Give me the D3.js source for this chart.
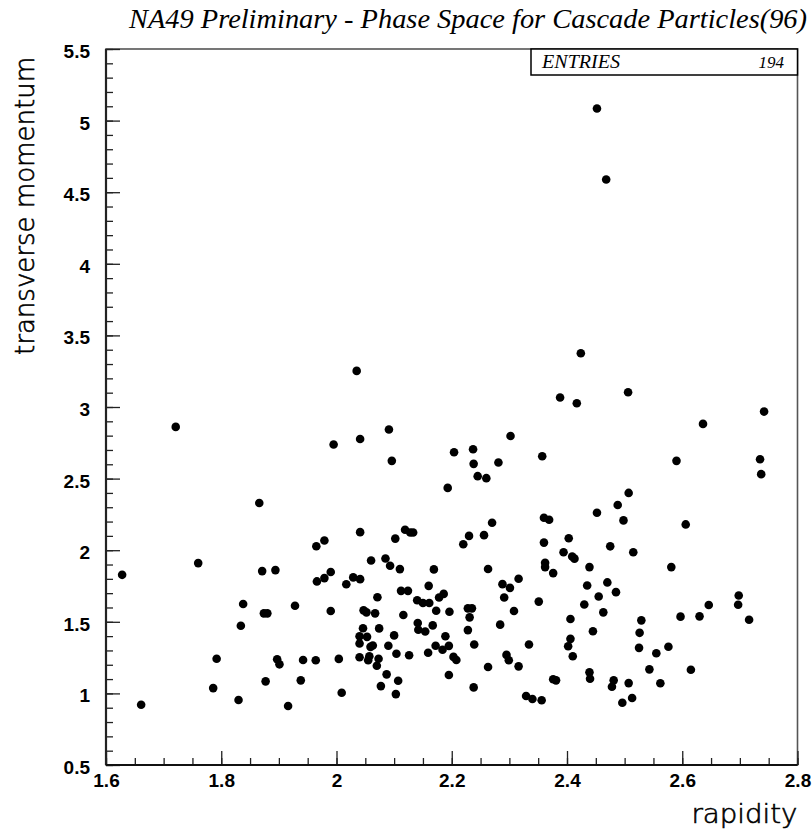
<!DOCTYPE html>
<html>
<head>
<meta charset="utf-8">
<script src="https://cdn.jsdelivr.net/npm/d3@7"></script>
<style>
  body { margin: 0; background: #fff; }
  svg { display: block; }
</style>
</head>
<body>
<svg id="chart" width="812" height="833"></svg>
<script>
// values, one entry per cascade candidate
const rapidity = [
  2.035, 1.721, 1.995, 2.041, 2.091, 2.096, 1.866, 2.041, 2.119, 2.128,
  2.133, 2.102, 1.965, 1.979, 1.760, 1.628, 1.871, 1.894, 1.966, 1.979,
  1.990, 2.017, 2.029, 2.041, 2.060, 2.085, 2.093, 2.110, 2.169, 2.160,
  2.112, 2.124, 2.071, 2.140, 2.150, 2.161, 2.178, 2.186, 2.173, 2.196,
  1.838, 1.874, 1.880, 1.928, 1.990, 2.047, 2.052, 2.067, 2.116, 1.834,
  2.141, 2.142, 2.154, 2.167, 2.189, 2.046, 2.040, 2.053, 2.074, 2.100,
  2.040, 2.059, 2.063, 2.090, 2.172, 2.184, 2.195, 2.104, 2.126, 2.159,
  1.792, 1.897, 1.901, 1.942, 1.964, 2.004, 2.040, 2.057, 2.055, 2.073,
  2.070, 2.087, 2.195, 1.877, 1.938, 2.107, 2.077, 1.786, 2.009, 2.103,
  1.830, 1.661, 1.916,
  2.452, 2.468,
  2.424, 2.506, 2.388, 2.417, 2.742, 2.636, 2.302, 2.204, 2.237, 2.238,
  2.281, 2.357, 2.245, 2.260, 2.590, 2.735, 2.737, 2.193, 2.507, 2.488,
  2.452, 2.498, 2.606, 2.270, 2.360, 2.369, 2.230, 2.220, 2.256, 2.360,
  2.403, 2.475, 2.394, 2.409, 2.413, 2.515, 2.263, 2.362, 2.362, 2.376,
  2.439, 2.581, 2.288, 2.301, 2.316, 2.291, 2.435, 2.470, 2.485, 2.455,
  2.351, 2.430, 2.228, 2.235, 2.231, 2.308, 2.463, 2.406, 2.284, 2.529,
  2.597, 2.630, 2.646, 2.698, 2.697, 2.716, 2.228, 2.445, 2.526, 2.239,
  2.334, 2.406, 2.402, 2.410, 2.525, 2.555, 2.576, 2.203, 2.208, 2.295,
  2.299, 2.263, 2.316, 2.543, 2.615, 2.439, 2.440, 2.376, 2.381, 2.481,
  2.478, 2.507, 2.562, 2.238, 2.329, 2.340, 2.356, 2.496, 2.513
];
const momentum = [
  3.252, 2.861, 2.738, 2.777, 2.843, 2.624, 2.330, 2.126, 2.143, 2.124,
  2.124, 2.081, 2.028, 2.068, 1.910, 1.828, 1.854, 1.861, 1.782, 1.805,
  1.848, 1.762, 1.810, 1.798, 1.928, 1.942, 1.891, 1.868, 1.866, 1.751,
  1.716, 1.716, 1.671, 1.651, 1.631, 1.631, 1.670, 1.695, 1.577, 1.570,
  1.624, 1.559, 1.559, 1.612, 1.575, 1.580, 1.566, 1.559, 1.547, 1.472,
  1.492, 1.445, 1.432, 1.475, 1.399, 1.455, 1.399, 1.395, 1.454, 1.405,
  1.349, 1.325, 1.334, 1.333, 1.333, 1.305, 1.332, 1.277, 1.266, 1.284,
  1.242, 1.238, 1.203, 1.233, 1.231, 1.241, 1.252, 1.259, 1.231, 1.242,
  1.193, 1.133, 1.129, 1.084, 1.091, 1.088, 1.051, 1.037, 1.005, 0.995,
  0.954, 0.921, 0.912,
  5.085, 4.589,
  3.375, 3.103, 3.066, 3.026, 2.968, 2.882, 2.798, 2.684, 2.705, 2.603,
  2.612, 2.656, 2.517, 2.503, 2.624, 2.635, 2.531, 2.435, 2.400, 2.316,
  2.261, 2.208, 2.180, 2.192, 2.227, 2.213, 2.100, 2.042, 2.105, 2.053,
  2.083, 2.027, 1.986, 1.956, 1.941, 1.986, 1.869, 1.912, 1.882, 1.840,
  1.882, 1.882, 1.763, 1.737, 1.801, 1.670, 1.754, 1.775, 1.707, 1.677,
  1.641, 1.621, 1.594, 1.594, 1.531, 1.575, 1.566, 1.520, 1.480, 1.510,
  1.536, 1.538, 1.617, 1.684, 1.619, 1.514, 1.442, 1.434, 1.423, 1.342,
  1.342, 1.381, 1.329, 1.259, 1.318, 1.280, 1.326, 1.255, 1.233, 1.269,
  1.231, 1.184, 1.189, 1.168, 1.165, 1.147, 1.102, 1.099, 1.091, 1.091,
  1.046, 1.072, 1.071, 1.042, 0.982, 0.961, 0.952, 0.935, 0.968
];
const xTicks = [1.6, 1.8, 2.0, 2.2, 2.4, 2.6, 2.8];
const yTicks = [0.5, 1.0, 1.5, 2.0, 2.5, 3.0, 3.5, 4.0, 4.5, 5.0, 5.5];
const titleText = "NA49 Preliminary - Phase Space for Cascade Particles(96)";
const xLabel = "rapidity";
const yLabel = "transverse momentum";
const entriesLabel = "ENTRIES";
const entriesCount = 194;

const SVG_WIDTH = 812;
const SVG_HEIGHT = 833;
const MARGIN = { left: 106, right: 14.5, top: 49, bottom: 68 };
const X0 = MARGIN.left, X1 = SVG_WIDTH - MARGIN.right;
const Y0 = MARGIN.top, Y1 = SVG_HEIGHT - MARGIN.bottom;

const svg = d3.select("#chart");

const x = d3.scaleLinear().domain([1.6, 2.8]).range([X0, X1]);
const y = d3.scaleLinear().domain([0.5, 5.5]).range([Y1, Y0]);

const fmt = (d) => String(+d.toFixed(1));
const tickFont = "'Liberation Sans', Arial, Helvetica, sans-serif";
const serifFont = "'Liberation Serif', 'Times New Roman', serif";
const labelFont = "'DejaVu Sans', Lato, sans-serif";

// minor tick positions
const xMinor = d3.range(0, 25).map((i) => 1.6 + i * 0.05);
const yMinor = d3.range(0, 51).map((i) => 0.5 + i * 0.1);

function styleAxis(g) {
  g.select(".domain").remove();
  g.selectAll(".tick line").attr("stroke", "#222").attr("stroke-width", 1.3);
  g.selectAll("text")
    .attr("fill", "#000")
    .style("font-family", tickFont)
    .style("font-weight", "bold")
    .style("font-size", "19px");
}

// frame
svg.append("rect")
  .attr("x", X0).attr("y", Y0)
  .attr("width", X1 - X0).attr("height", Y1 - Y0)
  .attr("fill", "none")
  .attr("stroke", "#555")
  .attr("stroke-width", 1.6);

// y axis (ticks pointing into the plot)
svg.append("g")
  .attr("transform", `translate(${X0},0)`)
  .call(d3.axisLeft(y).tickValues(yMinor).tickSize(-7).tickFormat(""))
  .call(styleAxis);
svg.append("g")
  .attr("transform", `translate(${X0},0)`)
  .call(d3.axisLeft(y).tickValues(yTicks).tickSize(-14).tickPadding(16).tickFormat(fmt))
  .call(styleAxis)
  .call((g) => g.selectAll("text").attr("dy", "0.45em"));

// x axis
svg.append("g")
  .attr("transform", `translate(0,${Y1})`)
  .call(d3.axisBottom(x).tickValues(xMinor).tickSize(-7).tickFormat(""))
  .call(styleAxis);
svg.append("g")
  .attr("transform", `translate(0,${Y1})`)
  .call(d3.axisBottom(x).tickValues(xTicks).tickSize(-14).tickPadding(9).tickFormat(fmt))
  .call(styleAxis);

// heavier left and bottom axis lines
svg.append("line")
  .attr("x1", X0).attr("x2", X0).attr("y1", Y0).attr("y2", Y1)
  .attr("stroke", "#222").attr("stroke-width", 2.2);
svg.append("line")
  .attr("x1", X0).attr("x2", X1).attr("y1", Y1).attr("y2", Y1)
  .attr("stroke", "#111").attr("stroke-width", 2);

// points
const points = rapidity.map((r, i) => ({ r: r, pt: momentum[i] }));
svg.append("g")
  .selectAll("circle")
  .data(points)
  .join("circle")
  .attr("cx", (d) => x(d.r))
  .attr("cy", (d) => y(d.pt))
  .attr("r", 4.3)
  .attr("fill", "#000");

// stats box
const boxLeft = 531, boxBottom = 75;
svg.append("rect")
  .attr("x", boxLeft).attr("y", Y0)
  .attr("width", X1 - boxLeft).attr("height", boxBottom - Y0)
  .attr("fill", "#fff")
  .attr("stroke", "#000")
  .attr("stroke-width", 1.5);
svg.append("text")
  .attr("x", 542).attr("y", 68)
  .attr("textLength", 78)
  .attr("lengthAdjust", "spacingAndGlyphs")
  .style("font-family", serifFont)
  .style("font-style", "italic")
  .style("font-size", "18px")
  .text(entriesLabel);
svg.append("text")
  .attr("x", 784).attr("y", 68)
  .attr("text-anchor", "end")
  .style("font-family", serifFont)
  .style("font-style", "italic")
  .style("font-size", "17px")
  .text(entriesCount);

// title
svg.append("text")
  .attr("x", 468).attr("y", 28)
  .attr("text-anchor", "middle")
  .attr("textLength", 678)
  .attr("lengthAdjust", "spacingAndGlyphs")
  .style("font-family", serifFont)
  .style("font-style", "italic")
  .style("font-size", "28px")
  .text(titleText);

// axis titles: thin but solid strokes
svg.append("text")
  .attr("transform", `translate(34,${206}) rotate(-90)`)
  .attr("text-anchor", "middle")
  .attr("textLength", 298)
  .attr("lengthAdjust", "spacingAndGlyphs")
  .attr("fill", "#000")
  .attr("stroke", "#000")
  .attr("stroke-width", 0.6)
  .style("font-family", labelFont)
  .style("font-weight", 200)
  .style("font-size", "26px")
  .text(yLabel);
svg.append("text")
  .attr("x", X1).attr("y", 823)
  .attr("text-anchor", "end")
  .attr("textLength", 106)
  .attr("lengthAdjust", "spacingAndGlyphs")
  .attr("fill", "#000")
  .attr("stroke", "#000")
  .attr("stroke-width", 0.6)
  .style("font-family", labelFont)
  .style("font-weight", 200)
  .style("font-size", "26px")
  .text(xLabel);
</script>
</body>
</html>
